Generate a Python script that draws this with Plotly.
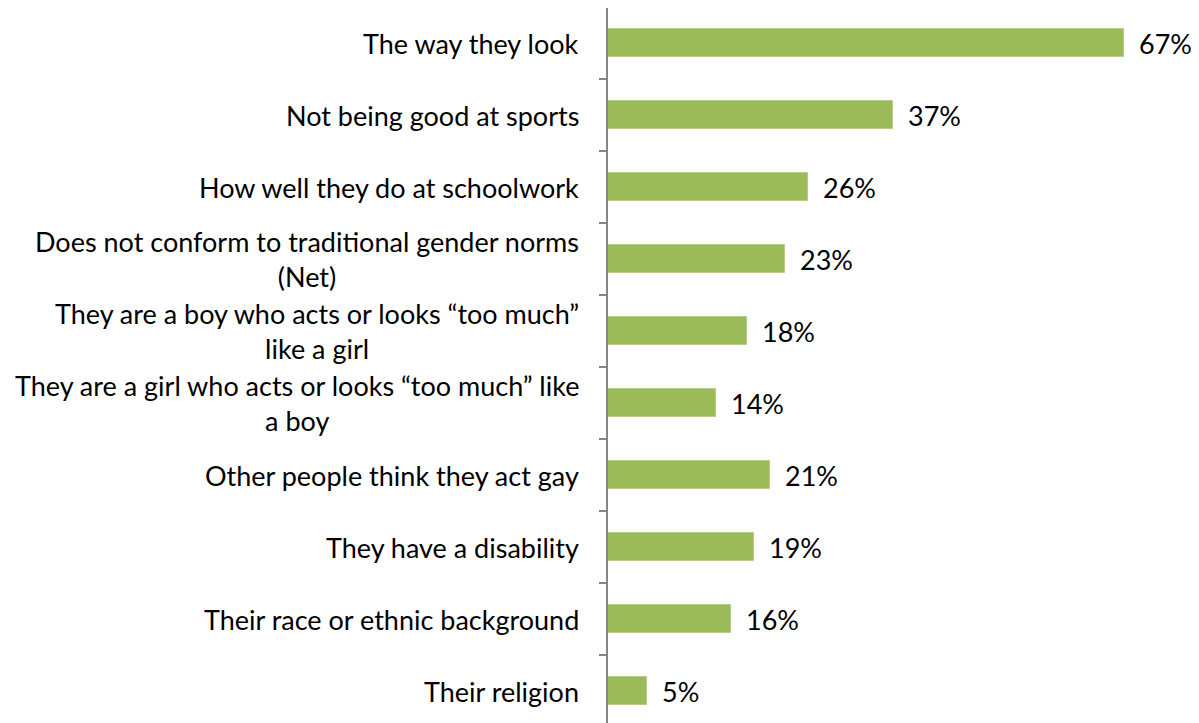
import plotly.graph_objects as go

categories = [
    "The way they look",
    "Not being good at sports",
    "How well they do at schoolwork",
    "Does not conform to traditional gender norms<br>(Net)",
    "They are a boy who acts or looks “too much”<br>like a girl",
    "They are a girl who acts or looks “too much” like<br>a boy",
    "Other people think they act gay",
    "They have a disability",
    "Their race or ethnic background",
    "Their religion",
]
values = [67, 37, 26, 23, 18, 14, 21, 19, 16, 5]
value_labels = ["67%", "37%", "26%", "23%", "18%", "14%", "21%", "19%", "16%", "5%"]

FONT = "Lato"
FS = 27
positions = list(range(len(categories)))

fig = go.Figure()
fig.add_trace(go.Bar(
    x=values, y=positions, orientation="h",
    width=0.39,
    marker=dict(color="#9BBB59", line=dict(color="#B5CC86", width=1)),
    hoverinfo="skip",
))
# boundary ticks on an overlaying axis
fig.add_trace(go.Scatter(x=[None], y=[None], yaxis="y2", showlegend=False))

annotations = []
for i, c in enumerate(categories):
    annotations.append(dict(
        x=0, xref="paper", y=i, yref="y", text=c, showarrow=False,
        xanchor="right", yanchor="middle", align="center", xshift=-27,
        font=dict(family=FONT, size=FS, color="#000000"),
    ))
for i, (v, t) in enumerate(zip(values, value_labels)):
    annotations.append(dict(
        x=v, xref="x", y=i, yref="y", text=t, showarrow=False,
        xanchor="left", yanchor="middle", xshift=13,
        font=dict(family=FONT, size=FS, color="#000000"),
    ))

n = len(categories)
yrange = [-0.5 + 716 / 72, -0.5 + 1 / 72]
fig.update_layout(
    width=1191, height=715,
    margin=dict(l=600, r=0, t=0, b=0),
    plot_bgcolor="white", paper_bgcolor="white",
    showlegend=False,
    xaxis=dict(range=[0, 591 / 7.7], showgrid=False, zeroline=False,
               showticklabels=False, showline=False, ticks=""),
    yaxis=dict(range=yrange, showgrid=False, zeroline=False,
               showticklabels=False, ticks="", showline=True,
               linecolor="#868686", linewidth=2),
    yaxis2=dict(range=yrange, overlaying="y", side="left", showgrid=False,
                zeroline=False, tickvals=[i - 0.5 for i in range(n + 1)],
                ticktext=[""] * (n + 1), ticks="outside", ticklen=8,
                tickcolor="#868686", tickwidth=2, showline=False),
    annotations=annotations,
    bargap=0,
)
fig.write_html("out.html")
